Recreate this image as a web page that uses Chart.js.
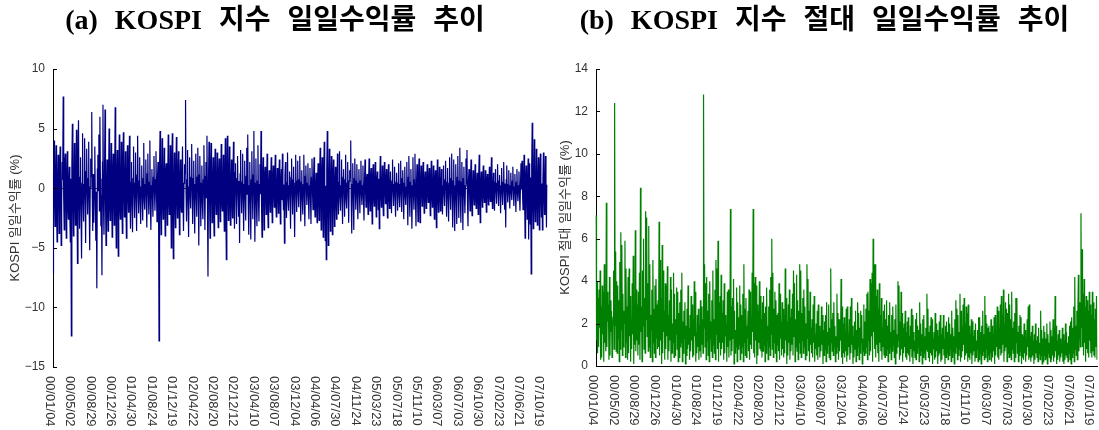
<!DOCTYPE html>
<html>
<head>
<meta charset="utf-8">
<script src="https://cdn.jsdelivr.net/npm/chart.js@4.4.1/dist/chart.umd.min.js"></script>
<style>
  html, body { margin: 0; padding: 0; background: #fff; }
  #wrap { position: relative; width: 1099px; height: 430px; }
  .panel { position: absolute; top: 0; height: 430px; }
</style>
</head>
<body>
<div id="wrap">
  <div class="panel" style="left:0;width:550px"><canvas id="chartA" width="550" height="430"></canvas></div>
  <div class="panel" style="left:550px;width:549px"><canvas id="chartB" width="549" height="430"></canvas></div>
</div>
<script>
// x-axis date labels, one every 40 trading days
const dateTicks = ['00/01/04', '00/05/02', '00/08/29', '00/12/26', '01/04/30', '01/08/24', '01/12/19',
  '02/04/22', '02/08/20', '02/12/12', '03/04/10', '03/08/07', '03/12/04', '04/04/06', '04/07/30',
  '04/11/24', '05/03/23', '05/07/18', '05/11/10', '06/03/07', '06/07/03', '06/10/30', '07/02/23',
  '07/06/21', '07/10/19'];
const tickStep = 40;

// KOSPI daily returns (%)
const dailyReturns = [
  -7.1, 1.2, 4.0, -0.6, -3.2, 0.9, 3.6, -1.8, -4.5, 0.3, 2.8, -0.4, -3.8, 1.5, 3.5, 0.2, -4.8, -1.1, 2.2, 0.7, 7.7, -0.9, -3.5, 2.1, 2.9, -0.3, -4.2, 0.5, 3.1, -1.6, -2.6, 0.4, 1.8, -2.3, -4.5, 0.8, -12.4, 1.9, 5.4, -0.7,
  -4.0, 0.6, 3.8, -1.3, -3.1, 0.2, 4.9, -0.8, -6.3, 1.7, 5.7, -0.5, -3.4, 0.9, 2.6, -2.0, -5.9, 0.4, 4.6, -1.1, -2.8, 0.3, 4.2, -0.6, -4.6, 1.4, 3.3, -0.2, -2.2, 0.8, 3.9, -1.5, -5.2, 0.1, 2.5, 1.0, 6.4, -0.7, -3.6, 1.2,
  -2.9, 0.5, 3.5, -1.0, -4.4, -0.3, -8.4, 1.6, 2.8, -0.2, 4.5, -1.9, 6.0, 0.8, -3.2, -0.6, -7.3, 2.2, 7.0, -1.4, -3.9, 0.7, 6.6, -0.9, -4.8, 0.4, 2.4, -1.7, -3.6, 0.2, 5.0, -1.1, -2.7, 0.6, 3.8, -0.4, -4.1, 1.3, 2.9, -0.8,
  -3.1, 0.9, 6.8, -0.5, -5.0, 1.2, 3.2, -0.1, -5.7, 0.6, 4.5, -1.6, -2.6, 0.3, 3.9, -0.8, -3.8, 1.4, 4.7, -0.3, -2.4, 0.7, 3.1, -1.2, -4.2, 0.2, 3.6, -0.6, -2.0, 1.1, 4.4, -0.4, -3.4, 0.5, 2.2, -1.5, -3.7, 0.8, 3.5, -0.2,
  -2.5, 0.4, 3.0, -0.9, -3.6, 1.1, 4.4, -0.2, -2.1, 0.6, 2.6, -1.3, -3.0, 0.1, 1.9, -0.5, -2.7, 0.8, 3.8, -1.0, -1.8, 0.3, 2.4, -0.7, -3.3, 1.2, 2.9, -0.4, -2.2, 0.5, 4.0, -1.4, -3.5, 0.2, 1.6, -0.6, -2.4, 0.9, 2.7, -0.3,
  -1.9, 0.7, 3.1, -0.4, -2.8, 1.0, 2.2, -0.6, -12.8, 1.8, 4.8, -0.9, -3.9, 0.3, 4.2, -1.2, -2.6, 0.5, 3.4, -0.2, -4.0, 1.3, 2.1, -0.7, -3.1, 0.4, 4.5, -1.0, -2.2, 0.6, 3.6, -0.3, -5.0, 1.5, 4.6, -0.8, -5.9, 0.2, 3.0, -1.1,
  -3.3, 0.5, 4.3, -0.8, -2.5, 1.1, 3.1, -0.3, -3.9, 0.6, 2.4, -1.4, -2.0, 0.2, 3.5, -0.9, -3.6, 0.4, 2.0, 1.2, 7.4, -0.5, -2.8, 0.7, 3.2, -1.3, -4.1, 0.1, 2.6, -0.6, -1.7, 0.9, 3.7, -0.2, -3.0, 0.8, 2.3, -1.0, -3.8, 0.3,
  2.9, -0.6, -2.4, 0.9, 3.4, -0.2, -4.8, 1.1, 2.7, -0.5, -3.2, 0.4, 1.9, -1.3, -2.6, 0.7, 3.6, -0.3, -3.5, 1.0, 2.2, -0.8, 4.4, -1.6, -7.4, 0.6, 3.9, -0.4, -4.2, 1.2, 3.8, -0.1, -2.9, 0.5, 2.6, -1.1, -4.0, 0.8, 3.3, -0.7,
  -2.2, 0.4, 3.0, -0.7, -3.3, 1.0, 2.5, -0.2, -2.8, 0.6, 3.7, -1.2, -1.9, 0.3, 2.8, -0.9, -3.6, 0.5, 4.2, -1.5, -6.0, 0.8, 4.4, -0.4, -2.7, 1.1, 3.5, -0.6, -3.1, 0.2, 2.4, -1.0, -2.5, 0.7, 3.9, -0.3, -3.4, 1.3, 2.1, -0.5,
  -3.0, 0.8, 2.7, -0.4, -2.4, 0.6, -4.6, 1.2, 3.2, -0.1, -2.1, 0.5, 2.9, -1.1, -3.6, 0.3, 2.3, -0.7, -2.7, 1.0, 3.4, -0.5, 4.5, -1.4, -3.9, 0.2, 2.2, -0.9, -4.3, 0.7, 3.1, -0.3, -2.6, 1.1, 4.8, -0.6, -4.5, 0.4, 2.5, -1.2,
  -3.2, 0.6, 3.6, -0.9, -2.8, 0.3, 2.0, -0.5, 4.8, -1.3, -4.1, 0.7, 2.6, -0.2, -3.5, 1.0, 1.8, -0.6, -2.2, 0.4, 2.9, -1.1, -3.3, 0.2, 1.5, -0.8, -2.0, 0.5, 2.6, -0.3, -2.9, 0.9, 1.9, -0.4, -1.6, 0.7, 2.8, -1.0, -2.4, 0.1,
  1.7, -0.5, -2.1, 0.8, 2.4, -0.2, -3.0, 0.6, 1.6, -1.0, 2.9, -0.4, -1.8, 0.3, -4.6, 1.1, 2.2, -0.7, -2.5, 0.5, 3.0, -0.9, -1.9, 0.2, 1.4, -0.6, -3.4, 0.9, 2.5, -0.3, -2.2, 0.7, 1.8, -1.2, -4.1, 0.4, 2.8, -0.1, -2.0, 0.6,
  2.3, -0.4, -1.6, 0.7, 2.7, -0.2, -2.8, 0.5, 1.5, -0.9, -2.2, 0.3, 2.8, -0.6, -3.2, 1.0, 1.9, -0.1, -1.4, 0.4, 2.1, -0.8, -2.6, 0.2, 1.7, -0.5, -3.0, 0.9, 2.5, -0.3, -1.8, 0.6, 2.6, -1.1, -2.4, 0.1, 1.3, -0.7, -2.9, 0.5,
  2.1, -0.6, -2.7, 0.9, 3.4, -0.3, -3.5, 1.2, 2.6, -0.5, -4.1, 0.7, 3.9, -1.4, -4.4, 0.2, -6.0, 1.6, 4.8, -0.8, -4.8, 0.4, 3.3, -1.0, -3.6, 0.6, 2.7, -0.2, -3.9, 1.1, 2.4, -0.7, -3.2, 0.3, 1.8, -0.9, -2.6, 0.5, 2.9, -0.4,
  -2.2, 0.5, 3.1, -0.8, -1.9, 0.2, 2.4, -0.6, -3.0, 0.9, 1.6, -0.3, -2.4, 0.7, 2.8, -1.0, -1.7, 0.4, 2.2, -0.1, -2.9, 0.6, 1.5, 0.9, 4.0, -1.2, -3.8, 0.3, 2.1, -0.5, -3.5, 0.8, 2.5, -0.2, -1.8, 0.6, 2.0, -0.9, -2.6, 0.4,
  1.6, -0.3, -2.1, 0.6, 2.3, -0.5, -1.4, 0.2, 1.9, -0.8, -2.7, 0.4, 2.4, -0.1, -1.6, 0.7, 1.2, -0.4, -2.2, 0.3, 2.5, -0.6, -1.9, 0.9, 1.7, -0.2, -3.0, 0.5, 2.0, -0.7, -1.5, 0.1, 2.2, -0.4, -2.4, 0.6, 1.4, -0.3, -1.8, 0.8,
  -3.4, 0.7, 2.7, -0.4, -1.6, 0.2, 1.9, -0.6, -2.3, 0.5, 2.2, -0.1, -1.3, 0.8, 1.6, -0.3, -2.5, 0.4, 2.0, -0.7, -1.7, 0.1, 1.4, -0.5, -2.1, 0.6, 2.4, -0.2, -1.5, 0.3, 1.8, -0.8, -2.4, 0.5, 1.3, -0.1, -1.9, 0.4, 2.1, -0.6,
  -1.6, 0.3, 2.3, -0.5, -2.0, 0.8, 1.5, -0.2, -2.6, 0.4, 1.8, -0.7, -1.4, 0.1, 2.2, -0.6, -3.1, 0.9, 2.7, -0.3, -2.4, 0.5, 1.6, -0.8, -3.4, 0.2, 2.6, -0.4, -1.8, 0.7, 2.9, -1.0, -3.2, 0.3, 2.0, -0.5, -2.8, 0.6, 2.5, -0.2,
  -2.9, 0.4, 1.9, -0.3, -1.5, 0.6, 2.2, -0.1, -2.1, 0.5, 1.4, -0.7, -1.7, 0.2, 2.0, -0.4, -1.2, 0.8, 1.7, -0.2, -2.3, 0.3, 2.3, -0.6, -1.6, 0.1, 1.9, -0.5, -2.6, 0.7, 1.5, -0.3, -3.3, 0.4, 2.4, -0.8, -2.0, 0.2, 1.8, -0.5,
  -1.9, 0.3, 1.6, -0.6, -2.2, 0.2, 1.9, -0.4, -1.5, 0.7, 2.3, -0.1, -2.4, 0.5, 1.7, -0.9, -2.8, 0.4, 2.6, -0.3, -1.8, 0.8, 2.9, -0.5, -3.3, 0.6, 2.4, -1.0, -3.6, 0.2, 2.0, -0.7, -3.0, 0.9, 2.7, -0.2, -2.5, 0.6, 3.4, -0.4,
  -2.9, 0.5, 2.2, -0.3, -3.5, 0.8, 1.8, -0.6, -2.1, 0.2, 2.5, 0.4, 3.2, -1.1, -3.2, 0.6, 1.6, -0.2, -1.9, 0.5, 2.4, -0.7, -2.3, 0.1, 1.5, -0.4, -1.4, 0.3, 2.0, -0.6, -1.7, 0.2, 1.3, -0.5, -2.2, 0.9, 2.8, -0.3, -2.9, 0.4,
  1.4, -0.2, -1.6, 0.4, 1.9, -0.5, -1.2, 0.1, 1.5, -0.3, -2.0, 0.6, 1.2, -0.4, -1.4, 0.2, 1.8, -0.6, -1.1, 0.3, 2.6, -0.5, -1.7, 0.1, 1.3, -0.2, -1.9, 0.5, 1.6, -0.3, -1.3, 0.4, 2.0, -0.1, -1.5, 0.6, 1.1, -0.4, -2.1, 0.2,
  1.7, -0.3, -1.4, 0.5, 2.2, -0.2, -1.8, 0.4, -3.3, 0.7, 1.9, -0.1, -1.2, 0.3, 1.5, -0.5, -1.7, 0.2, 1.3, -0.4, -1.0, 0.6, 1.8, -0.2, -1.5, 0.1, 1.2, -0.3, -2.0, 0.5, 1.6, -0.4, -1.1, 0.2, 1.4, -0.6, -1.9, 0.3, 2.1, -0.1,
  2.3, -0.4, -1.8, 0.6, 2.8, -0.2, -4.2, 0.8, 1.9, -0.5, -2.6, 0.3, 2.5, -4.3, -0.7, 2.1, -3.0, 0.9, -7.2, 1.8, 5.5, -0.9, -3.4, 0.5, 4.1, -1.1, -2.8, 0.2, 3.3, -0.8, -3.1, 0.6, 2.6, -0.4, -3.5, 1.2, 2.9, -0.6, -2.4, 0.4,
  -3.5, 0.7, 3.0, -0.5, -2.2, 0.4, 2.7, -0.9, -3.3, 0.3
];
// panel (b) shows the absolute value of the same series
const absReturns = dailyReturns.map(v => Math.abs(v));
const indexLabels = dailyReturns.map((_, i) => i);

const sansFont = "'Liberation Sans', Arial, 'Noto Sans CJK KR', sans-serif";
const titleFont = "'Liberation Serif', 'Noto Sans CJK KR', serif";

// panel title, inward y ticks and clockwise-rotated date labels
const axisDecor = {
  id: 'axisDecor',
  afterDraw(chart, args, opts) {
    const { ctx, scales: { x, y } } = chart;
    ctx.save();
    ctx.fillStyle = '#000';
    ctx.font = 'bold 28px ' + titleFont;
    ctx.textAlign = 'center';
    ctx.textBaseline = 'middle';
    ctx.wordSpacing = '10px';
    ctx.fillText(opts.title, chart.width / 2, 22);
    ctx.restore();

    ctx.save();
    ctx.strokeStyle = '#000';
    ctx.lineWidth = 1;
    y.ticks.forEach(t => {
      const py = Math.round(y.getPixelForValue(t.value)) + 0.5;
      ctx.beginPath();
      ctx.moveTo(x.left, py);
      ctx.lineTo(x.left + 4, py);
      ctx.stroke();
    });
    ctx.fillStyle = '#333';
    ctx.font = '13px ' + sansFont;
    ctx.textAlign = 'left';
    ctx.textBaseline = 'middle';
    dateTicks.forEach((lab, k) => {
      const px = x.getPixelForValue(k * tickStep) - 3.5;
      ctx.save();
      ctx.translate(px, x.top + 9);
      ctx.rotate(Math.PI / 2);
      ctx.fillText(lab, 0, 0);
      ctx.restore();
    });
    ctx.restore();
  }
};

function makeChart(id, cfg) {
  return new Chart(document.getElementById(id), {
    type: 'line',
    data: {
      labels: indexLabels,
      datasets: [{
        data: cfg.values,
        borderColor: cfg.color,
        borderWidth: 1.2,
        pointRadius: 0,
        tension: 0,
        fill: false
      }]
    },
    options: {
      responsive: false,
      animation: false,
      events: [],
      layout: { padding: { left: 0, right: cfg.padRight, top: 69, bottom: 0 } },
      plugins: {
        legend: { display: false },
        tooltip: { enabled: false },
        title: { display: false },
        axisDecor: { title: cfg.title }
      },
      scales: {
        x: {
          type: 'category',
          ticks: { display: false },
          grid: { display: false, drawTicks: false },
          border: { display: cfg.xBorder, color: '#000', width: 1 },
          afterFit: s => { s.height = cfg.xHeight; }
        },
        y: {
          min: cfg.min,
          max: cfg.max,
          ticks: {
            stepSize: cfg.step,
            padding: 8,
            color: '#333',
            font: { family: sansFont, size: 12 },
            callback: v => v < 0 ? '\u2212' + Math.abs(v) : String(v)
          },
          grid: {
            display: cfg.zeroLine,
            drawTicks: false,
            color: c => (c.tick && c.tick.value === 0) ? '#333' : 'rgba(0,0,0,0)'
          },
          border: { display: true, color: '#000', width: 1 },
          title: {
            display: true,
            text: cfg.yTitle,
            color: '#333',
            font: { family: sansFont, size: 13 },
            padding: { top: 8, bottom: 0 }
          },
          afterFit: s => { s.width = cfg.yWidth; }
        }
      }
    },
    plugins: [axisDecor]
  });
}

makeChart('chartA', {
  values: dailyReturns,
  color: '#000080',
  title: '(a) KOSPI 지수 일일수익률 추이',
  yTitle: 'KOSPI 일일수익률 (%)',
  min: -15, max: 10, step: 5,
  yWidth: 53, xHeight: 63, padRight: 3,
  xBorder: false, zeroLine: true
});

makeChart('chartB', {
  values: absReturns,
  color: '#008000',
  title: '(b) KOSPI 지수 절대 일일수익률 추이',
  yTitle: 'KOSPI 절대 일일수익률 (%)',
  min: 0, max: 14, step: 2,
  yWidth: 46, xHeight: 64, padRight: 2,
  xBorder: true, zeroLine: false
});
</script>
</body>
</html>
